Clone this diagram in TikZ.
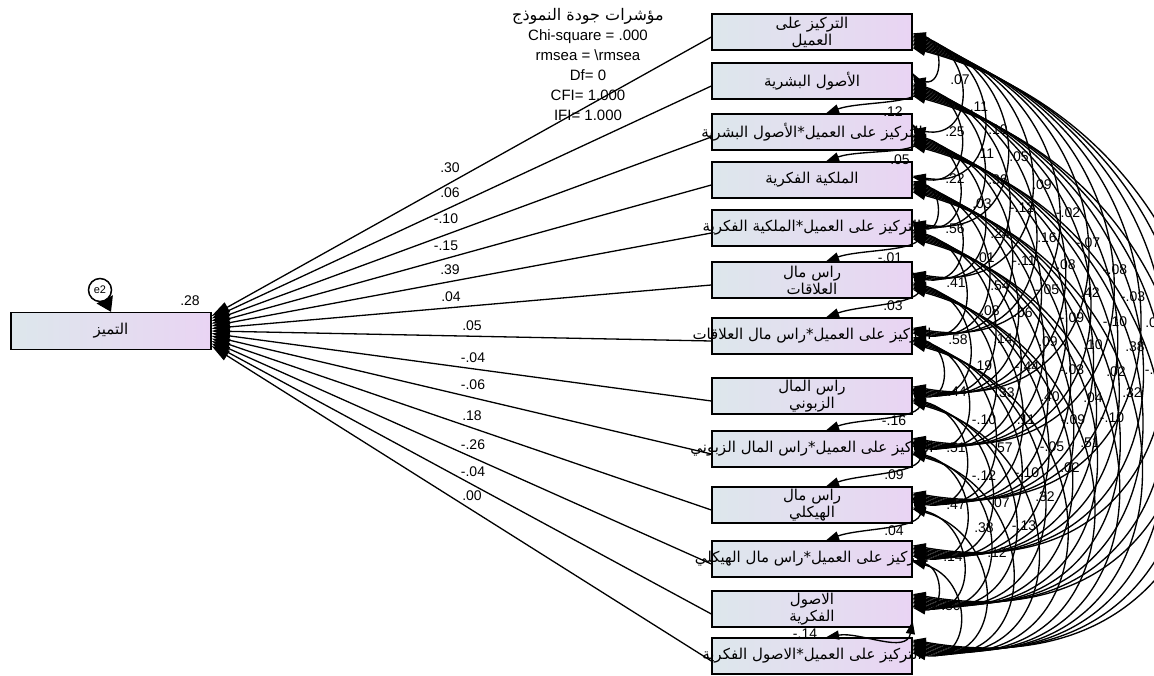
\documentclass[tikz,border=0pt]{standalone}
\usepackage{fontspec}
\setmainfont{Liberation Sans}
\newfontfamily\arabicfont[Script=Arabic]{DejaVu Sans}
\TeXXeTstate=1
\usetikzlibrary{arrows.meta,backgrounds}
\definecolor{boxL}{RGB}{221,231,236}
\definecolor{boxR}{RGB}{233,212,243}
\newcommand\arb[1]{{\arabicfont\beginR #1\endR}}
\begin{document}
\begin{tikzpicture}[x=1pt,y=1pt,
  var/.style={draw=black, line width=1.3pt, left color=boxL, right color=boxR,
    minimum width=200pt, minimum height=36pt, inner sep=0pt, align=center,
    font=\arabicfont\fontsize{15}{17}\selectfont},
  reg/.style={line width=1.3pt, -{Triangle[length=18pt,width=11pt]}},
  cov/.style={line width=1.35pt, {Triangle[length=13pt,width=9pt]}-{Triangle[length=13pt,width=9pt]}},
  lab/.style={font=\fontsize{14}{14}\selectfont, inner sep=0pt},
  errc/.style={draw=black, line width=1.5pt, circle, fill=white, minimum size=23pt, inner sep=0pt, font=\fontsize{11}{11}\selectfont},
]
\useasboundingbox (0,0) rectangle (1154,-676);
\clip (0,0) rectangle (1154,-676);

% title block
\node[align=center, font=\fontsize{15}{20}\selectfont] (fit) at (588,-64)
  {{\fontsize{16}{20}\selectfont\arb{مؤشرات جودة النموذج}}\\Chi-square = .000\\rmsea = \textbackslash rmsea\\Df= 0\\CFI= 1.000\\IFI= 1.000};

% dependent variable
\node[var, minimum height=37pt] (tm) at (111,-331) {\arb{التميز}};
\node[errc] (e) at (100,-290) {e2};
\begin{pgfonlayer}{background}
\draw[line width=1.3pt, -{Triangle[length=14pt,width=18pt]}] (e) -- (tm.north);
\end{pgfonlayer}
\node[lab] (r2) at (190,-301) {.28};

% exogenous variables
\node[var] (b1) at (812,-32) {\arb{التركيز على}\\\arb{العميل}};
\node[var] (b2) at (812,-81) {\arb{الأصول البشرية}};
\node[var] (b3) at (812,-132) {\makebox[0pt]{\arb{التركيز على العميل*الأصول البشرية}}};
\node[var] (b4) at (812,-180) {\arb{الملكية الفكرية}};
\node[var] (b5) at (812,-228) {\makebox[0pt]{\arb{التركيز على العميل*الملكية الفكرية}}};
\node[var] (b6) at (812,-280) {\arb{راس مال}\\\arb{العلاقات}};
\node[var] (b7) at (812,-336) {\makebox[0pt]{\arb{التركيز على العميل*راس مال العلاقات}}};
\node[var] (b8) at (812,-396) {\arb{راس المال}\\\arb{الزبوني}};
\node[var] (b9) at (812,-449) {\makebox[0pt]{\arb{التركيز على العميل*راس المال الزبوني}}};
\node[var] (b10) at (812,-505) {\arb{راس مال}\\\arb{الهيكلي}};
\node[var] (b11) at (812,-559) {\makebox[0pt]{\arb{التركيز على العميل*راس مال الهيكلي}}};
\node[var] (b12) at (812,-609) {\arb{الاصول}\\\arb{الفكرية}};
\node[var] (b13) at (812,-656) {\makebox[0pt]{\arb{التركيز على العميل*الاصول الفكرية}}};

% regression paths
\foreach \i in {1,...,13}{
  \pgfmathsetmacro\ty{(7-\i)*2.5}
  \draw[reg] ([yshift=-5pt]b\i.west) -- ([yshift=\ty pt]tm.east);
}
\foreach \t/\x/\y [count=\k] in {.30/450/168,.06/450/193,-.10/446/219,-.15/446/246,.39/450/270,.04/451/297,.05/472/326,-.04/473/358,-.06/473/385,.18/472/416,-.26/473/445,-.04/473/472,.00/472/496}
  \node[lab] (p\k) at (\x,-\y) {\t};

% covariances (right-hand arcs)
\foreach \i in {1,...,12}{
  \pgfmathtruncatemacro\ii{\i+1}
  \foreach \j in {\ii,...,13}{
    \pgfmathtruncatemacro\g{\j-\i}
    \pgfmathtruncatemacro\hk{(\g==1)*((\i==2)+(\i==3)+(\i==5)+(\i==6)+(\i==8)+(\i==9)+(\i==10)+(\i==12))}
    \pgfmathsetmacro\off{min(1.35*\g,16)}
    \ifnum\hk=0
      \draw[cov] ([yshift=-\off pt]b\i.east) to[out=-15,in=-10,looseness=1.76] ([yshift=\off pt]b\j.east);
    \fi
  }
}
% covariances between neighbours (hooks)
\foreach \i/\j in {2/3,3/4,5/6,6/7,8/9,9/10,10/11}
  \draw[cov] ([yshift=8pt]b\i.east) to[out=-60,in=20] ([xshift=14pt]b\j.north);
\draw[cov] ([yshift=-12pt]b12.east) to[out=-100,in=10] ([xshift=14pt]b13.north);

\foreach \t/\x/\y [count=\k] in {.12/893/112,.05/900/160,-.01/890/258,.03/893/306,-.16/894/421,.09/894/475,.04/894/531,-.14/805/634}
  \node[lab] (h\k) at (\x,-\y) {\t};

% covariance labels
\foreach \t/\x/\y [count=\k] in {
  .07/960/80,.25/955/132,.22/955/179,.56/955/229,.41/956/283,.58/958/340,.44/957/392,.51/956/448,.47/956/505,.14/953/557,.30/951/606,
  .11/979/107,.11/985/154,.03/982/204,.01/985/258,.08/990/311,-.19/980/366,-.10/984/420,-.12/984/476,.38/984/528,
  .10/998/130,.36/998/180,.24/1000/234,.54/1000/286,.14/1003/339,.33/1005/393,.57/1003/448,.07/1000/503,.12/997/553,
  .05/1019/157,-.12/1022/208,-.11/1024/261,.06/1023/313,-.44/1027/367,.11/1026/420,-.10/1027/473,-.13/1024/526,
  .09/1042/185,.16/1047/238,-.05/1047/290,.09/1048/342,.40/1050/397,-.05/1052/447,.32/1045/497,
  -.02/1068/213,.08/1066/265,-.09/1072/318,-.03/1072/370,-.09/1073/420,.02/1070/468,
  -.07/1088/243,.42/1090/293,.10/1093/345,.04/1093/398,.51/1090/443,
  -.08/1115/270,-.10/1115/322,.02/1116/372,-.10/1112/418,
  -.03/1133/297,.38/1135/347,.32/1132/393,
  .06/1155/323,-.30/1157/370}
  \node[lab] (c\k) at (\x,-\y) {\t};
\end{tikzpicture}
\end{document}
